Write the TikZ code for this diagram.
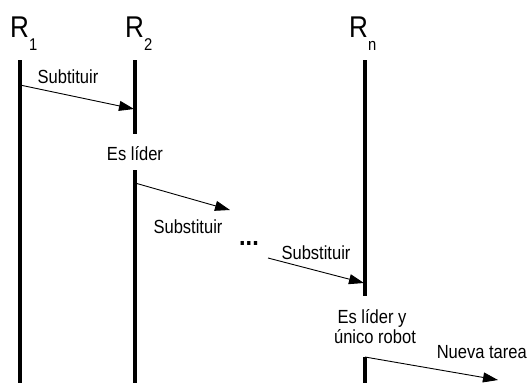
\documentclass[tikz,border=0pt]{standalone}
\usepackage{fontspec}
\setmainfont[FakeStretch=0.87]{Liberation Sans}
\usetikzlibrary{arrows.meta}
\tikzset{
  lifeline/.style={line width=3.5pt},
  msg/.style={line width=0.9pt,-{Triangle[length=15pt,width=10pt]}},
  lbl/.style={inner sep=0pt,anchor=base,font=\fontsize{19}{22}\selectfont},
  rlbl/.style={inner sep=0pt,anchor=base west,font=\fontsize{30}{30}\selectfont}
}
\newcommand{\rsub}[1]{\raisebox{-13pt}{\fontsize{17}{17}\selectfont #1}}
\begin{document}
\begin{tikzpicture}[x=1pt,y=-1pt]
\useasboundingbox (0,0) rectangle (528,383);
% robot labels
\node[rlbl] (r1) at (10,37) {R\rsub{1}};
\node[rlbl] (r2) at (125,37) {R\rsub{2}};
\node[rlbl] (rn) at (349,37) {R\rsub{n}};
% lifeline end points
\coordinate (r1t) at (20,60);
\coordinate (r1b) at (20,383);
\coordinate (r2t) at (135,60);
\coordinate (r2m) at (135,134);
\coordinate (r2s) at (135,170);
\coordinate (r2b) at (135,383);
\coordinate (rnt) at (365,60);
\coordinate (rnm) at (365,296);
\coordinate (rns) at (365,357);
\coordinate (rnb) at (365,383);
\draw[lifeline] (r1t) -- (r1b);
\draw[lifeline] (r2t) -- (r2m);
\draw[lifeline] (r2s) -- (r2b);
\draw[lifeline] (rnt) -- (rnm);
\draw[lifeline] (rns) -- (rnb);
% messages
\coordinate (a1s) at (20,85);
\coordinate (a1e) at (134,109);
\draw[msg] (a1s) -- (a1e);
\node[lbl] (t1) at (68,83) {Subtituir};
\node[lbl] (t2) at (135,160) {Es líder};
\coordinate (a2s) at (135,183);
\coordinate (a2e) at (230,210);
\draw[msg] (a2s) -- (a2e);
\node[lbl] (t3) at (188,233) {Substituir};
\node[lbl,font=\fontsize{27}{27}\selectfont\bfseries] (dots) at (249,245) {...};
\coordinate (a3s) at (268,258);
\coordinate (a3e) at (364,283);
\draw[msg] (a3s) -- (a3e);
\node[lbl] (t4) at (316,259) {Substituir};
\node[lbl] (t5) at (372,323) {Es líder y};
\node[lbl] (t5b) at (375,343) {único robot};
\coordinate (a4s) at (365,357);
\coordinate (a4e) at (498,380);
\draw[msg] (a4s) -- (a4e);
\node[lbl,anchor=base east] (t6) at (527,358) {Nueva tarea};
\end{tikzpicture}
\end{document}
